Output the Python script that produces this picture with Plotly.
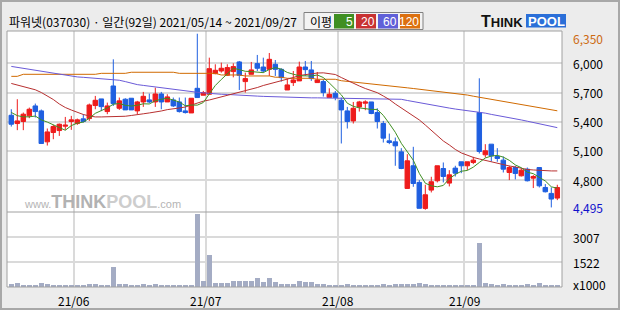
import plotly.graph_objects as go

# ---------------- data ----------------
may_days = [14, 17, 18, 20, 21, 24, 25, 26, 27, 28, 31]
jun_days = [1, 2, 3, 4, 7, 8, 9, 10, 11, 14, 15, 16, 17, 18, 21, 22, 23, 24, 25, 28, 29, 30]
jul_days = [1, 2, 5, 6, 7, 8, 9, 12, 13, 14, 15, 16, 19, 20, 21, 22, 23, 26, 27, 28, 29, 30]
aug_days = [2, 3, 4, 5, 6, 9, 10, 11, 12, 13, 17, 18, 19, 20, 23, 24, 25, 26, 27, 30, 31]
sep_days = [1, 2, 3, 6, 7, 8, 9, 10, 13, 14, 15, 16, 17, 23, 24, 27]
dates = ([f"2021-05-{d:02d}" for d in may_days] + [f"2021-06-{d:02d}" for d in jun_days]
         + [f"2021-07-{d:02d}" for d in jul_days] + [f"2021-08-{d:02d}" for d in aug_days]
         + [f"2021-09-{d:02d}" for d in sep_days])

opens = [5466, 5381, 5402, 5460, 5562, 5511, 5193, 5289, 5309, 5354,
         5402, 5381, 5429, 5432, 5566, 5634, 5504, 5767, 5538, 5631,
         5641, 5511, 5603, 5624, 5603, 5685, 5603, 5624, 5603, 5511,
         5490, 5743, 5672, 5682, 5894, 5921, 5877, 5915, 6014, 5812,
         5887, 5997, 5962, 5938, 5990, 5938, 5726, 5802, 5819, 5962,
         5932, 5802, 5812, 5648, 5692, 5620, 5511, 5408, 5552, 5590,
         5603, 5494, 5381, 5203, 5193, 5090, 4714, 4947, 4776, 4509,
         4697, 4793, 4919, 4769, 4923, 4988, 4947, 4981, 5494, 5060,
         5169, 5042, 5005, 4878, 4929, 4844, 4912, 4820, 4929, 4724,
         4663, 4615]
highs = [5528, 5631, 5494, 5545, 5586, 5525, 5330, 5367, 5381, 5449,
         5460, 5432, 5477, 5586, 5665, 5634, 5596, 6041, 5648, 5641,
         5641, 5614, 5706, 5689, 5750, 5706, 5682, 5648, 5648, 5648,
         5641, 6304, 5716, 6058, 5990, 6007, 5990, 6000, 6024, 5904,
         6014, 6086, 6058, 6106, 6034, 5949, 5843, 5921, 6017, 6024,
         6024, 5911, 5836, 5743, 5716, 5648, 5552, 5603, 5614, 5620,
         5603, 5538, 5408, 5278, 5237, 5128, 5066, 5142, 4800, 4752,
         4834, 4947, 4981, 4902, 4947, 4988, 4988, 5039, 5846, 5169,
         5169, 5128, 5042, 4947, 4947, 4919, 4929, 4851, 4929, 4759,
         4724, 4752]
lows = [5350, 5313, 5313, 5436, 5443, 5176, 5155, 5220, 5254, 5316,
        5316, 5367, 5391, 5408, 5528, 5508, 5477, 5562, 5521, 5521,
        5521, 5477, 5552, 5590, 5552, 5528, 5603, 5552, 5494, 5484,
        5490, 5648, 5672, 5682, 5887, 5904, 5870, 5856, 5726, 5699,
        5887, 5921, 5904, 5870, 5870, 5812, 5726, 5767, 5819, 5870,
        5819, 5802, 5658, 5648, 5620, 5176, 5330, 5381, 5504, 5518,
        5477, 5330, 5186, 5169, 4947, 4912, 4714, 4731, 4510, 4495,
        4673, 4776, 4776, 4735, 4837, 4871, 4902, 4964, 5073, 5032,
        4991, 4988, 4878, 4800, 4807, 4837, 4786, 4718, 4724, 4673,
        4519, 4594]
closes = [5374, 5408, 5477, 5528, 5504, 5176, 5295, 5350, 5374, 5364,
          5419, 5419, 5402, 5572, 5620, 5555, 5562, 5586, 5614, 5521,
          5521, 5603, 5661, 5603, 5685, 5603, 5655, 5562, 5504, 5494,
          5641, 5648, 5699, 5945, 5928, 5949, 5956, 5966, 5877, 5843,
          5932, 5949, 5921, 6041, 5938, 5853, 5778, 5829, 5962, 5935,
          5843, 5829, 5699, 5682, 5648, 5521, 5402, 5538, 5603, 5603,
          5484, 5402, 5231, 5186, 5152, 4919, 4998, 4765, 4510, 4649,
          4783, 4947, 4837, 4854, 4871, 4947, 4988, 5005, 5094, 5101,
          5049, 5022, 4912, 4929, 4868, 4902, 4793, 4837, 4741, 4680,
          4605, 4724]
volumes = [234, 291, 173, 173, 173, 291, 234, 173, 173, 173,
           173, 135, 173, 234, 234, 173, 173, 1235, 234, 234,
           173, 173, 234, 173, 234, 173, 173, 173, 173, 173,
           173, 4362, 373, 1943, 291, 291, 291, 373, 373, 373,
           410, 587, 352, 587, 352, 234, 234, 234, 410, 312,
           332, 234, 234, 173, 173, 173, 234, 155, 173, 155,
           173, 173, 234, 173, 234, 234, 234, 234, 291, 214,
           173, 173, 135, 135, 135, 135, 135, 173, 2674, 291,
           234, 173, 234, 173, 173, 173, 234, 173, 291, 173,
           173, 135]
ma5 = [5495, 5462, 5450, 5450, 5458, 5419, 5396, 5371, 5340, 5312,
       5360, 5385, 5396, 5435, 5486, 5514, 5542, 5579, 5587, 5568,
       5561, 5569, 5584, 5582, 5615, 5631, 5641, 5622, 5602, 5564,
       5571, 5570, 5597, 5685, 5772, 5834, 5895, 5949, 5935, 5918,
       5915, 5913, 5904, 5937, 5956, 5940, 5906, 5888, 5872, 5871,
       5869, 5880, 5854, 5798, 5740, 5676, 5590, 5558, 5542, 5533,
       5526, 5526, 5465, 5381, 5291, 5178, 5097, 5004, 4869, 4768,
       4741, 4731, 4745, 4814, 4858, 4891, 4899, 4933, 4981, 5027,
       5047, 5054, 5036, 5003, 4956, 4927, 4881, 4866, 4828, 4791,
       4731, 4717]
ma20 = [5793, 5777, 5762, 5746, 5728, 5700, 5664, 5628, 5582, 5546,
        5520, 5495, 5474, 5459, 5449, 5449, 5449, 5449, 5449, 5456,
        5464, 5469, 5481, 5490, 5497, 5510, 5524, 5536, 5541, 5551,
        5572, 5597, 5611, 5623, 5638, 5654, 5674, 5685, 5700, 5716,
        5731, 5751, 5772, 5787, 5803, 5818, 5839, 5854, 5875, 5885,
        5895, 5900, 5902, 5895, 5885, 5854, 5823, 5798, 5767, 5741,
        5721, 5698, 5664, 5628, 5582, 5541, 5500, 5459, 5418, 5366,
        5310, 5264, 5202, 5161, 5115, 5079, 5053, 5033, 5017, 5002,
        4986, 4971, 4956, 4945, 4935, 4920, 4909, 4904, 4899, 4897,
        4894, 4894]
ma60 = [5968, 5958, 5946, 5937, 5928, 5919, 5907, 5895, 5884, 5875,
        5864, 5860, 5856, 5852, 5848, 5842, 5836, 5832, 5826, 5812,
        5796, 5781, 5773, 5765, 5756, 5745, 5736, 5727, 5722, 5716,
        5709, 5702, 5696, 5690, 5686, 5682, 5680, 5678, 5675, 5668,
        5665, 5663, 5660, 5658, 5654, 5650, 5647, 5646, 5646, 5645,
        5645, 5645, 5644, 5644, 5643, 5643, 5642, 5642, 5641, 5641,
        5640, 5640, 5638, 5636, 5634, 5630, 5618, 5606, 5595, 5582,
        5570, 5560, 5550, 5540, 5530, 5522, 5515, 5507, 5495, 5488,
        5475, 5465, 5452, 5442, 5430, 5418, 5405, 5392, 5380, 5368,
        5353, 5339]
ma120 = [5866, 5866, 5887, 5887, 5887, 5887, 5887, 5887, 5887, 5887,
         5887, 5887, 5887, 5887, 5887, 5897, 5897, 5897, 5897, 5897,
         5908, 5908, 5908, 5908, 5908, 5908, 5908, 5908, 5897, 5897,
         5897, 5897, 5897, 5897, 5897, 5880, 5880, 5880, 5880, 5870,
         5870, 5870, 5870, 5870, 5857, 5857, 5846, 5846, 5846, 5846,
         5846, 5836, 5836, 5836, 5836, 5821, 5815, 5808, 5802, 5795,
         5789, 5782, 5776, 5769, 5762, 5755, 5748, 5741, 5734, 5727,
         5720, 5713, 5706, 5699, 5692, 5685, 5674, 5662, 5651, 5640,
         5628, 5618, 5606, 5595, 5584, 5573, 5562, 5553, 5543, 5533,
         5522, 5512]

price_ticks = [6000, 5700, 5400, 5100, 4800]
price_tick_labels = ["6,000", "5,700", "5,400", "5,100", "4,800"]
price_max_label = "6,350"
price_min_label = "4,495"
vol_ticks = [3007, 1522]
vol_tick_labels = ["3007", "1522"]
vol_unit_label = "x1000"
month_labels = ["21/06", "21/07", "21/08", "21/09"]
month_keys = ["2021-06", "2021-07", "2021-08", "2021-09"]
title_text = "파워넷(037030) · 일간(92일) 2021/05/14 ~ 2021/09/27"
ma_names = ["5", "20", "60", "120"]

# ---------------- layout helpers ----------------
W, H = 620, 310
ML, MR, MT, MB = 7, 58, 31, 23
PW = W - ML - MR
PH = H - MT - MB


def fx(px):
    return (px - ML) / PW


def fy(py):
    return (H - MB - py) / PH


SPLIT = fy(212)
xs = list(range(len(dates)))
month_pos = [next(i for i, d in enumerate(dates) if d.startswith(k)) - 0.5 for k in month_keys]

RED = "#ee1c1c"
BLUE = "#1f5fe0"
C_MA5 = "#3f8f22"
C_MA20 = "#b83030"
C_MA60 = "#6a5ad8"
C_MA120 = "#d06a00"
GRID = "#dadada"
FONT = "Noto Sans CJK KR"

fig = go.Figure()

for vals, col in [(ma120, C_MA120), (ma60, C_MA60), (ma20, C_MA20), (ma5, C_MA5)]:
    fig.add_trace(go.Scatter(x=xs, y=vals, mode="lines", line=dict(color=col, width=1),
                             xaxis="x2", yaxis="y", hoverinfo="skip"))

fig.add_trace(go.Candlestick(
    x=xs, open=opens, high=highs, low=lows, close=closes, xaxis="x2", yaxis="y",
    increasing=dict(line=dict(color=RED, width=1), fillcolor=RED),
    decreasing=dict(line=dict(color=BLUE, width=1), fillcolor=BLUE),
    whiskerwidth=0, hoverinfo="skip"))

fig.add_trace(go.Bar(x=xs, y=volumes, marker=dict(color="#a4acc4", line=dict(width=0)),
                     width=0.78, xaxis="x", yaxis="y2", hoverinfo="skip"))

xrange = [(ML - 11.3) / 6.0, (W - MR - 11.3) / 6.0]
xcommon = dict(range=xrange, tickvals=month_pos, showticklabels=False, ticks="",
               showgrid=True, gridcolor=GRID, gridwidth=1.5, zeroline=False,
               showline=False, fixedrange=True, rangeslider=dict(visible=False))

shapes = [
    dict(type="rect", xref="paper", yref="paper", x0=0, x1=1, y0=0, y1=1,
         line=dict(color="#a0a0a0", width=1)),
    dict(type="line", xref="paper", yref="paper", x0=0, x1=1, y0=SPLIT, y1=SPLIT,
         line=dict(color="#a0a0a0", width=1)),
    dict(type="rect", xref="paper", yref="paper", x0=fx(1), x1=fx(619), y0=fy(309), y1=fy(1),
         line=dict(color="#a8a8a8", width=2)),
    # MA legend box
    dict(type="rect", xref="paper", yref="paper", x0=fx(304), x1=fx(423), y0=fy(29.5), y1=fy(12.5),
         line=dict(color="#808080", width=1), fillcolor="#f3f3f3"),
    # logo blue box
    dict(type="rect", xref="paper", yref="paper", x0=fx(526), x1=fx(566), y0=fy(27.5), y1=fy(14),
         line=dict(width=0), fillcolor="#2b6fd8"),
]
legend_cols = [C_MA5, "#c83232", "#6060d8", "#dc7010"]
legend_x = [334, 356, 378, 400]
annotations = []
for name, col, lx in zip(ma_names, legend_cols, legend_x):
    shapes.append(dict(type="rect", xref="paper", yref="paper", x0=fx(lx), x1=fx(lx + 20),
                       y0=fy(28.5), y1=fy(14), line=dict(width=0), fillcolor=col))
    annotations.append(dict(text=name, xref="paper", yref="paper", x=fx(lx + 20), y=fy(21.5),
                            xanchor="right", yanchor="middle", showarrow=False, borderpad=0,
                            font=dict(family="Liberation Sans", size=12, color="white")))

annotations += [
    dict(text=title_text, xref="paper", yref="paper", x=fx(7), y=fy(21.5), xanchor="left",
         yanchor="middle", showarrow=False, font=dict(family=FONT, size=12, color="#000")),
    dict(text="이평", xref="paper", yref="paper", x=fx(308), y=fy(21.5), xanchor="left",
         yanchor="middle", showarrow=False, font=dict(family=FONT, size=12, color="#000")),
    dict(text="<b><span style='font-size:16px'>T</span>HINK</b>", xref="paper", yref="paper",
         x=fx(479), y=fy(21.5), xanchor="left", yanchor="middle", showarrow=False,
         font=dict(family="Liberation Sans", size=13, color="#111")),
    dict(text="<b>POOL</b>", xref="paper", yref="paper", x=fx(546), y=fy(21.5), xanchor="center",
         yanchor="middle", showarrow=False, font=dict(family="Liberation Sans", size=13, color="white")),
    dict(text="<span style='font-size:11px'>www.</span><b><span style='font-size:18px;color:#b2b2b2'>THINK</span>"
              "<span style='font-size:18px;color:#cdcdcd'>POOL</span></b><span style='font-size:11px'>.com</span>",
         xref="paper", yref="paper", x=fx(22), y=fy(214), xanchor="left", yanchor="bottom",
         showarrow=False, font=dict(family="Liberation Sans", size=11, color="#b4b4b4")),
    dict(text=price_max_label, xref="paper", yref="paper", x=fx(571), y=fy(38), xanchor="left",
         yanchor="middle", showarrow=False, font=dict(family=FONT, size=12, color="#cc6a10")),
    dict(text=price_min_label, xref="paper", yref="paper", x=fx(571), y=fy(207), xanchor="left",
         yanchor="middle", showarrow=False, font=dict(family=FONT, size=12, color="#1010cc")),
    dict(text=vol_unit_label, xref="paper", yref="paper", x=fx(571), y=fy(284), xanchor="left",
         yanchor="middle", showarrow=False, font=dict(family=FONT, size=12, color="#000")),
]
for v, t in zip(price_ticks, price_tick_labels):
    annotations.append(dict(text=t, xref="paper", yref="y", x=fx(571), y=v, xanchor="left",
                            yanchor="middle", showarrow=False, font=dict(family=FONT, size=12, color="#000")))
for v, t in zip(vol_ticks, vol_tick_labels):
    annotations.append(dict(text=t, xref="paper", yref="y2", x=fx(571), y=v, xanchor="left",
                            yanchor="middle", showarrow=False, font=dict(family=FONT, size=12, color="#000")))
for p, t in zip(month_pos, month_labels):
    annotations.append(dict(text=t, xref="x", yref="paper", x=p, y=fy(300), xanchor="center",
                            yanchor="middle", showarrow=False, font=dict(family=FONT, size=12, color="#000")))

fig.update_layout(
    width=W, height=H, margin=dict(l=ML, r=MR, t=MT, b=MB, pad=0),
    paper_bgcolor="#ececec", plot_bgcolor="white", showlegend=False, hovermode=False,
    boxgap=0.15, boxgroupgap=0.12, bargap=0,
    xaxis=dict(domain=[0, 1], anchor="y2", **xcommon),
    xaxis2=dict(domain=[0, 1], anchor="y", matches="x", **xcommon),
    yaxis=dict(domain=[SPLIT, 1], anchor="x2", range=[4472, 6332], tickvals=price_ticks,
               showticklabels=False, showgrid=True, gridcolor=GRID, gridwidth=1.5,
               zeroline=False, fixedrange=True),
    yaxis2=dict(domain=[0, SPLIT], anchor="x", range=[37, 4492], tickvals=vol_ticks,
                showticklabels=False, showgrid=True, gridcolor=GRID, gridwidth=1.5,
                zeroline=False, fixedrange=True),
    shapes=shapes, annotations=annotations,
)

fig.write_html("out.html")
